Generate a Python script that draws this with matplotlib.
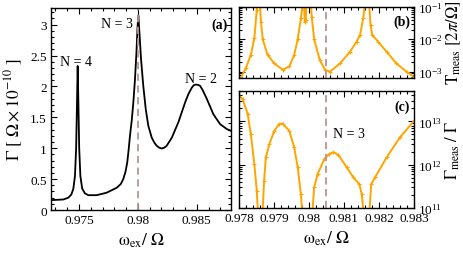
import numpy as np
import matplotlib
matplotlib.use("Agg")
import matplotlib.pyplot as plt
from matplotlib.ticker import MultipleLocator, LogLocator, NullFormatter

plt.rcParams['font.family'] = ['Liberation Serif', 'DejaVu Serif']
plt.rcParams['mathtext.fontset'] = 'stix'

# panel (a): decay rate
wa = [0.97262, 0.97367, 0.97410, 0.97435, 0.97452, 0.97466, 0.97476, 0.97483, 0.97489,
      0.97495, 0.97502, 0.97512, 0.97527, 0.97550, 0.97579, 0.9765, 0.97735, 0.9782,
      0.97855, 0.97876, 0.97895, 0.9791, 0.97922, 0.97933, 0.97948, 0.97962, 0.97975,
      0.97988, 0.97997, 0.98004, 0.98014, 0.98027, 0.98046, 0.98067, 0.98089, 0.98118,
      0.9814, 0.9816, 0.9818, 0.98203, 0.98225, 0.98245, 0.98288, 0.98344, 0.98401,
      0.9843, 0.98458, 0.98475, 0.98491, 0.98510, 0.98528, 0.9855, 0.98585, 0.98641,
      0.98698, 0.98755, 0.98791]
gam = [0.16, 0.17, 0.20, 0.25, 0.34, 0.55, 1.00, 1.70, 2.33,
       1.75, 1.00, 0.55, 0.35, 0.27, 0.24, 0.24, 0.28, 0.36,
       0.42, 0.50, 0.62, 0.77, 0.98, 1.20, 1.45, 1.75, 2.10,
       2.55, 2.95, 3.15, 2.85, 2.44, 2.01, 1.63, 1.36, 1.17,
       1.09, 1.04, 1.01, 0.995, 1.01, 1.04, 1.17, 1.42, 1.74,
       1.88, 1.98, 2.02, 2.03, 2.025, 2.01, 1.94, 1.80, 1.55,
       1.39, 1.31, 1.28]

# panel (b): measurement time
wb = [0.97800, 0.97806, 0.9782, 0.97834, 0.97844, 0.97851, 0.97855, 0.9786, 0.97863,
      0.97868, 0.97882, 0.97901, 0.97925, 0.97944, 0.97958, 0.97968, 0.97977, 0.97982,
      0.97985, 0.97988, 0.97991, 0.97994, 0.98003, 0.98008, 0.98015, 0.98031, 0.98046,
      0.9806, 0.98089, 0.98117, 0.98136, 0.98146, 0.98155, 0.9816, 0.98166, 0.98172,
      0.98176, 0.98181, 0.98198, 0.98222, 0.9825, 0.98279, 0.983]
tmeas = [4.5e-4, 6.6e-4, 1.3e-3, 3.3e-3, 1.07e-2, 8e-2, 0.3, 0.12, 3.5e-2,
         1.0e-2, 3.3e-3, 1.8e-3, 1.15e-3, 1.45e-3, 3.3e-3, 1.0e-2, 4.4e-2, 0.12,
         0.3, 3.5e-2, 4.0e-2, 0.3, 0.3, 5e-2, 1.0e-2, 2.3e-3, 1.15e-3,
         1.0e-3, 1.8e-3, 4.1e-3, 8.4e-3, 1.36e-2, 4.4e-2, 0.12, 0.3, 0.12,
         2.8e-2, 1.36e-2, 8.4e-3, 4.1e-3, 1.8e-3, 1.0e-3, 7e-4]

# panel (c): Gamma_meas / Gamma (log10)
wc = [0.97796, 0.97811, 0.97825, 0.97834, 0.97844, 0.97851, 0.97855, 0.97867,
      0.97872, 0.97877, 0.97887, 0.97901, 0.97915, 0.97925, 0.97944, 0.97958,
      0.97968, 0.97977, 0.97982, 0.98009, 0.98015, 0.98025, 0.98044, 0.98057,
      0.9807, 0.98084, 0.98108, 0.98127, 0.98144, 0.98151, 0.98157, 0.98172,
      0.98178, 0.98189, 0.98222, 0.9826, 0.983]
rexp = [13.63, 13.51, 13.17, 12.71, 12.02, 11.40, 10.8, 10.8,
        11.63, 12.17, 12.48, 12.78, 12.94, 12.95, 12.78, 12.40,
        11.94, 11.32, 10.8, 10.8, 11.48, 11.79, 12.13, 12.24,
        12.29, 12.23, 11.94, 11.71, 11.55, 11.32, 10.8, 10.8,
        11.55, 11.71, 12.17, 12.63, 13.01]
ratio = [10 ** e for e in rexp]

w_dash_a = 0.98005
w_dash_bc = 0.98048

orange = '#FFA500'
dash_col = '#B89494'
fs = 9.5
lfs = 12.5

fig = plt.figure(figsize=(4.63, 2.55), dpi=100)
axa = fig.add_axes([0.110, 0.1725, 0.389, 0.7925])
axb = fig.add_axes([0.516, 0.692, 0.378, 0.277])
axc = fig.add_axes([0.516, 0.180, 0.378, 0.459])

def style(ax):
    ax.tick_params(which='both', direction='in', top=True, right=True, labelsize=fs,
                   width=0.8, pad=3)
    ax.tick_params(which='major', length=4.5)
    ax.tick_params(which='minor', length=2.2)
    for s in ax.spines.values():
        s.set_linewidth(1.0)

axa.plot(wa, gam, color='black', lw=1.3)
axa.axvline(w_dash_a, color=dash_col, ls=(0, (4, 2.5)), lw=1.3)
axa.set_xlim(0.97262, 0.98791)
axa.set_ylim(0, 3.27)
axa.xaxis.set_minor_locator(MultipleLocator(0.001))
axa.yaxis.set_minor_locator(MultipleLocator(0.1))
axa.set_xticks([0.975, 0.98, 0.985])
axa.set_xticklabels(['0.975', '0.98', '0.985'])
axa.set_yticks([0, 0.5, 1, 1.5, 2, 2.5, 3])
axa.set_yticklabels(['0', '0.5', '1', '1.5', '2', '2.5', '3'])
style(axa)
axa.set_xlabel(r'$\mathrm{\omega}_{\rm ex}/\ \Omega$', fontsize=lfs, labelpad=3)
axa.set_ylabel(r'$\Gamma\ [\ \Omega\times10^{-10}\ ]$', fontsize=lfs, labelpad=4)
axa.text(0.97475, 2.40, 'N = 4', fontsize=fs + 0.5, ha='center', va='center')
axa.text(0.97819, 3.01, 'N = 3', fontsize=fs + 0.5, ha='center', va='center')
axa.text(0.98537, 2.12, 'N = 2', fontsize=fs + 0.5, ha='center', va='center')
axa.text(0.983, 0.92, '(a)', transform=axa.transAxes, fontsize=fs + 0.5, fontweight='bold',
         ha='right', va='center')

axb.semilogy(wb, tmeas, color=orange, lw=1.4, marker='+', ms=2.5, mew=0.8)
axb.axvline(w_dash_bc, color=dash_col, ls=(0, (4, 2.5)), lw=1.3)
axb.set_xlim(0.978, 0.983)
axb.set_ylim(6.6e-4, 0.1)
axb.xaxis.set_major_locator(MultipleLocator(0.001))
axb.xaxis.set_minor_locator(MultipleLocator(0.0002))
axb.yaxis.set_major_locator(LogLocator(base=10, numticks=10))
axb.yaxis.set_minor_locator(LogLocator(base=10, subs=np.arange(2, 10), numticks=10))
axb.yaxis.set_minor_formatter(NullFormatter())
style(axb)
axb.tick_params(labelleft=False, labelright=True, labelbottom=False)
axb.yaxis.set_label_position('right')
axb.set_ylabel(r'$\mathrm{T}_{\rm meas}\ [2\pi/\Omega]$', fontsize=lfs - 0.5, labelpad=1)
axb.text(0.977, 0.79, '(b)', transform=axb.transAxes, fontsize=fs + 0.5, fontweight='bold',
         ha='right', va='center')

axc.semilogy(wc, ratio, color=orange, lw=1.4, marker='+', ms=2.5, mew=0.8)
axc.axvline(w_dash_bc, color=dash_col, ls=(0, (4, 2.5)), lw=1.3)
axc.set_xlim(0.978, 0.983)
axc.set_ylim(1e11, 5e13)
axc.xaxis.set_minor_locator(MultipleLocator(0.0002))
axc.set_xticks([0.978, 0.979, 0.98, 0.981, 0.982, 0.983])
axc.set_xticklabels(['0.978', '0.979', '0.98', '0.981', '0.982', '0.983'])
axc.yaxis.set_major_locator(LogLocator(base=10, numticks=10))
axc.yaxis.set_minor_locator(LogLocator(base=10, subs=np.arange(2, 10), numticks=10))
axc.yaxis.set_minor_formatter(NullFormatter())
style(axc)
axc.tick_params(labelleft=False, labelright=True)
axc.yaxis.set_label_position('right')
axc.set_ylabel(r'$\Gamma_{\rm meas}\ /\ \Gamma$', fontsize=lfs - 0.5, labelpad=1)
axc.set_xlabel(r'$\mathrm{\omega}_{\rm ex}/\ \Omega$', fontsize=lfs, labelpad=3)
axc.text(0.98113, 10 ** 12.71, 'N = 3', fontsize=fs + 0.5, ha='center', va='center')
axc.text(0.977, 0.87, '(c)', transform=axc.transAxes, fontsize=fs + 0.5, fontweight='bold',
         ha='right', va='center')

fig.savefig('out.png', dpi=100)
